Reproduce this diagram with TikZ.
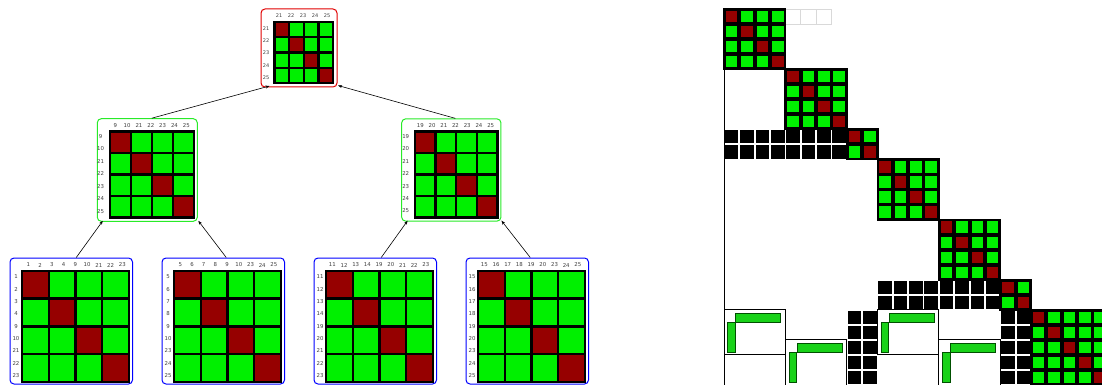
\documentclass[tikz,border=0pt]{standalone}
\usepackage{fontspec}
\setmainfont{DejaVu Sans}
\usetikzlibrary{arrows.meta}
\definecolor{mgreen}{RGB}{0,240,0}
\definecolor{mred}{RGB}{150,0,0}
\definecolor{lgreen}{RGB}{25,210,25}
\definecolor{dgreen}{RGB}{0,80,0}
\definecolor{bred}{RGB}{225,0,0}
\definecolor{bgreen}{RGB}{40,235,40}
\definecolor{bblue}{RGB}{0,0,255}
\def\mOX{724}\def\mOY{9}\def\mCW{15.35}\def\mCH{15.04}
% tree-node matrix: x0 y0 x1 y1
\newcommand{\tmat}[4]{%
  \fill[black] ({#1-1.2},{#2-1.2}) rectangle ({#3+1.2},{#4+1.2});
  \pgfmathsetmacro\mcw{(#3-#1)/4}%
  \pgfmathsetmacro\mch{(#4-#2)/4}%
  \foreach \i in {0,...,3}{\foreach \j in {0,...,3}{%
    \ifnum\i=\j\def\mcol{mred}\else\def\mcol{mgreen}\fi
    \fill[\mcol] ({#1+\j*\mcw+1.2},{#2+\i*\mch+1.2}) rectangle ({#1+(\j+1)*\mcw-1.2},{#2+(\i+1)*\mch-1.2});
  }}}
\newcommand{\collabels}[5]{% size, y, xstart, dx, list
  \foreach \l [count=\k from 0] in {#5} \node[lbl,font=\fontsize{#1}{#1}\selectfont] at ({#3+\k*#4},#2) {\l};}
\newcommand{\rowlabels}[5]{% size, x, ystart, dy, list
  \foreach \l [count=\k from 0] in {#5} \node[lbl,font=\fontsize{#1}{#1}\selectfont] at (#2,{#3+\k*#4}) {\l};}
% right matrix: coloured block r0 c0 n
\newcommand{\rblock}[3]{%
  \fill[black] ({\mOX+#2*\mCW-1},{\mOY+#1*\mCH-1}) rectangle ({\mOX+(#2+#3)*\mCW+1},{\mOY+(#1+#3)*\mCH+1});
  \foreach \i in {1,...,#3}{\foreach \j in {1,...,#3}{%
    \ifnum\i=\j\def\mcol{mred}\else\def\mcol{mgreen}\fi
    \fill[\mcol] ({\mOX+(#2+\j-1)*\mCW+1.9},{\mOY+(#1+\i-1)*\mCH+1.9}) rectangle ({\mOX+(#2+\j)*\mCW-1.9},{\mOY+(#1+\i)*\mCH-1.9});
  }}}
% black cells r0 c0 nrows ncols
\newcommand{\bcells}[4]{%
  \foreach \i in {1,...,#3}{\foreach \j in {1,...,#4}{%
    \fill[black] ({\mOX+(#2+\j-1)*\mCW+0.9},{\mOY+(#1+\i-1)*\mCH+0.9}) rectangle ({\mOX+(#2+\j)*\mCW-0.9},{\mOY+(#1+\i)*\mCH-0.9});
  }}}
% box with green L: r0 c0
\newcommand{\lbox}[2]{%
  \begin{scope}[shift={({\mOX+#2*\mCW},{\mOY+#1*\mCH})}]
    \draw[black,line width=0.9pt] (0,0) rectangle ({4*\mCW},{3*\mCH});
    \filldraw[fill=lgreen,draw=dgreen,line width=0.6pt] (11.5,3) rectangle (56.5,12);
    \filldraw[fill=lgreen,draw=dgreen,line width=0.6pt] (3.5,12) rectangle (11,42);
  \end{scope}}
\tikzset{
  lbl/.style={inner sep=0pt,text=black!75},
  tnode/.style={draw=#1,line width=1pt,rounded corners=4pt,inner sep=0pt},
  arr/.style={-{Stealth[length=4pt,width=3pt]},line width=0.6pt,black}
}
\begin{document}
\begin{tikzpicture}[x=1pt,y=-1pt]
\useasboundingbox (0,0) rectangle (1102,385);
\clip (0,0) rectangle (1102,385);
\fill[white] (0,0) rectangle (1102,385);
% ---------- tree nodes ----------
\node[tnode=bred,minimum width=76pt,minimum height=78pt] (T) at (299,48) {};
\node[tnode=bgreen,minimum width=100pt,minimum height=102.6pt] (ML) at (147.3,170) {};
\node[tnode=bgreen,minimum width=99.3pt,minimum height=102.3pt] (MR) at (451.3,170) {};
\node[tnode=bblue,minimum width=122.5pt,minimum height=126pt] (B1) at (71.25,321) {};
\node[tnode=bblue,minimum width=122.5pt,minimum height=126pt] (B2) at (223.25,321) {};
\node[tnode=bblue,minimum width=122.5pt,minimum height=126pt] (B3) at (375.25,321) {};
\node[tnode=bblue,minimum width=122.5pt,minimum height=126pt] (B4) at (527.25,321) {};
% matrices
\tmat{274.5}{22}{333}{83}
\collabels{5}{15.5}{279}{12}{21,22,23,24,25}
\rowlabels{5}{266}{28.3}{12.35}{21,22,23,24,25}
\tmat{110}{131.5}{194}{217.5}
\collabels{5.4}{125.3}{115.3}{11.83}{9,10,21,22,23,24,25}
\rowlabels{5.4}{100.5}{136.3}{12.5}{9,10,21,22,23,24,25}
\tmat{415}{131.5}{497.5}{217.5}
\collabels{5.4}{125.3}{420.3}{11.73}{19,20,21,22,23,24,25}
\rowlabels{5.4}{405.7}{136.3}{12.45}{19,20,21,22,23,24,25}
\tmat{22}{271}{129}{381.7}
\collabels{5.4}{265}{28.3}{11.75}{1,2,3,4,9,10,21,22,23}
\rowlabels{5.4}{16}{277}{12.33}{1,2,3,4,9,10,21,22,23}
\tmat{174}{271}{281}{381.7}
\collabels{5.4}{265}{180.3}{11.7}{5,6,7,8,9,10,23,24,25}
\rowlabels{5.4}{168}{277}{12.33}{5,6,7,8,9,10,23,24,25}
\tmat{326}{271}{433}{381.7}
\collabels{5.4}{265}{332.3}{11.7}{11,12,13,14,19,20,21,22,23}
\rowlabels{5.4}{320}{277}{12.33}{11,12,13,14,19,20,21,22,23}
\tmat{478}{271}{585}{381.7}
\collabels{5.4}{265}{484.3}{11.7}{15,16,17,18,19,20,23,24,25}
\rowlabels{5.4}{472}{277}{12.33}{15,16,17,18,19,20,23,24,25}
% arrows
\draw[arr] ([xshift=5pt]B1.north) -- ([xshift=6pt,yshift=1pt]ML.south west);
\draw[arr] ([xshift=3pt]B2.north) -- ([xshift=0.5pt,yshift=1pt]ML.south east);
\draw[arr] ([xshift=6pt]B3.north) -- ([xshift=6.5pt,yshift=1pt]MR.south west);
\draw[arr] ([xshift=3pt]B4.north) -- ([xshift=0pt,yshift=1pt]MR.south east);
\draw[arr] ([xshift=4.5pt]ML.north) -- ([xshift=9pt,yshift=1.5pt]T.south west);
\draw[arr] ([xshift=4pt]MR.north) -- ([xshift=0.5pt,yshift=2pt]T.south east);
% ---------- right: sparse matrix ----------
\foreach \j in {4,5,6}
  \draw[black!15,line width=0.6pt] ({\mOX+\j*\mCW},\mOY) rectangle ({\mOX+(\j+1)*\mCW},{\mOY+\mCH});
\draw[black,line width=1pt] (\mOX,{\mOY+4*\mCH}) -- (\mOX,385);
\rblock{0}{0}{4}
\rblock{4}{4}{4}
\bcells{8}{0}{2}{8}
\rblock{8}{8}{2}
\rblock{10}{10}{4}
\rblock{14}{14}{4}
\bcells{18}{10}{2}{8}
\rblock{18}{18}{2}
\rblock{20}{20}{5}
\bcells{20}{8}{5}{2}
\bcells{20}{18}{5}{2}
\lbox{20}{0}
\lbox{22}{4}
\lbox{20}{10}
\lbox{22}{14}
\end{tikzpicture}
\end{document}
